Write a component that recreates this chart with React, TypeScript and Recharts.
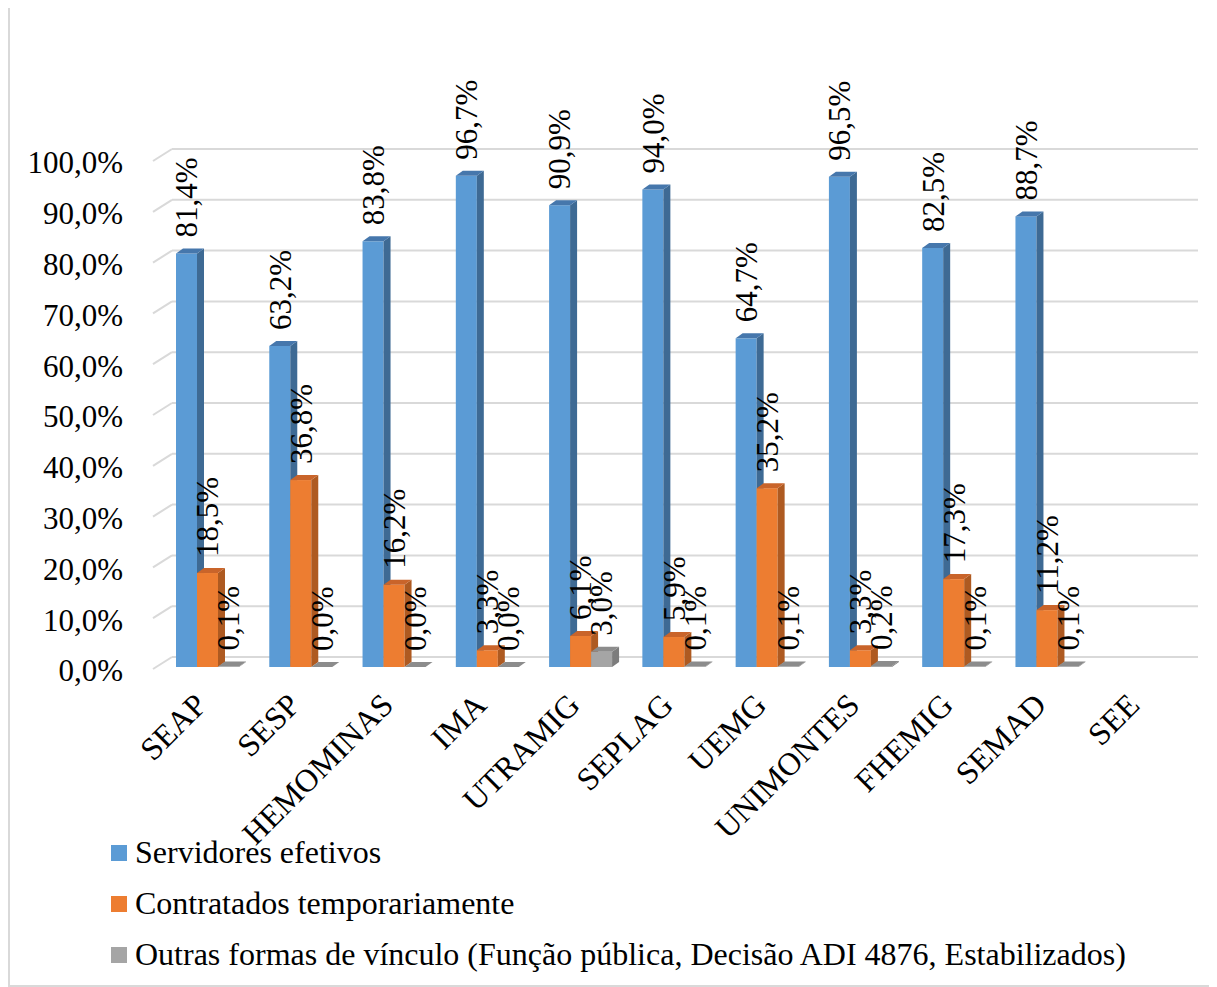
import React from 'react';
import { BarChart, Bar, XAxis, YAxis, CartesianGrid, Legend, LabelList } from 'recharts';

const categories = ['SEAP', 'SESP', 'HEMOMINAS', 'IMA', 'UTRAMIG', 'SEPLAG', 'UEMG', 'UNIMONTES', 'FHEMIG', 'SEMAD', 'SEE'];
const efetivos = [81.4, 63.2, 83.8, 96.7, 90.9, 94.0, 64.7, 96.5, 82.5, 88.7, null];
const temporarios = [18.5, 36.8, 16.2, 3.3, 6.1, 5.9, 35.2, 3.3, 17.3, 11.2, null];
const outras = [0.1, 0.0, 0.0, 0.0, 3.0, 0.1, 0.1, 0.2, 0.1, 0.1, null];
const yTicks = [0, 10, 20, 30, 40, 50, 60, 70, 80, 90, 100];
const seriesNames = [
  'Servidores efetivos',
  'Contratados temporariamente',
  'Outras formas de vínculo (Função pública, Decisão ADI 4876, Estabilizados)',
];

const data = categories.map((c, i) => ({
  name: c,
  efetivos: efetivos[i],
  temporarios: temporarios[i],
  outras: outras[i],
}));

const FONT = '"Liberation Serif", "Times New Roman", serif';
const DX = 7;
const DY = 5;

const fmt = (v: number) => `${v.toFixed(1).replace('.', ',')}%`;

const make3D = (front: string, top: string, side: string) => (props: any) => {
  const { x, y, width, height } = props;
  if (x == null || y == null || props.value == null) return <g />;
  const h = Math.max(0, height);
  return (
    <g>
      {h > 0 && <rect x={x} y={y} width={width} height={h} fill={front} />}
      <polygon
        points={`${x + width},${y} ${x + width + DX},${y - DY} ${x + width + DX},${y + h - DY} ${x + width},${y + h}`}
        fill={side}
      />
      <polygon
        points={`${x},${y} ${x + DX},${y - DY} ${x + width + DX},${y - DY} ${x + width},${y}`}
        fill={top}
      />
    </g>
  );
};

const blueShape = make3D('#5B9BD5', '#4677AC', '#3E6A94');
const orangeShape = make3D('#ED7D31', '#C9642A', '#AE5A21');
const grayShape = make3D('#A5A5A5', '#8C8C8C', '#7C7C7C');

const renderLabel = (props: any) => {
  const { x, y, width, value } = props;
  if (value == null || x == null) return null;
  const cx = x + width / 2;
  const ty = y - 16;
  return (
    <text
      x={cx}
      y={ty}
      transform={`rotate(-90 ${cx} ${ty})`}
      textAnchor="start"
      dy="0.35em"
      fontFamily={FONT}
      fontSize={31}
      fill="#000"
    >
      {fmt(value)}
    </text>
  );
};

const YTick = (props: any) => {
  const { x, y, payload } = props;
  return (
    <text x={x} y={y + 3.5} dy="0.35em" textAnchor="end" fontFamily={FONT} fontSize={31} fill="#000">
      {fmt(payload.value)}
    </text>
  );
};

const XTick = (props: any) => {
  const { payload } = props;
  const x = props.x - 7;
  const y = props.y - 6;
  return (
    <text
      x={x}
      y={y}
      dy="0.35em"
      textAnchor="end"
      transform={`rotate(-45 ${x} ${y})`}
      fontFamily={FONT}
      fontSize={32}
      fill="#000"
    >
      {payload.value}
    </text>
  );
};

const gridLine = (props: any) => {
  const { x1, x2, y1, key } = props;
  return (
    <g key={key}>
      <line x1={x1 - 8} y1={y1 + 2} x2={x1 + 11} y2={y1 - 10} stroke="#D9D9D9" strokeWidth={2} />
      <line x1={x1 + 11} y1={y1 - 10} x2={x2 + 11} y2={y1 - 10} stroke="#D9D9D9" strokeWidth={2} />
    </g>
  );
};

const LegendContent = (props: any) => {
  const payload = [...(props.payload || [])].sort(
    (a: any, b: any) => seriesNames.indexOf(a.value) - seriesNames.indexOf(b.value)
  );
  return (
    <div style={{ height: 153, fontFamily: FONT, fontSize: 32, color: '#000' }}>
      {payload.map((p: any) => (
        <div key={p.value} style={{ height: 51, display: 'flex', alignItems: 'center', whiteSpace: 'nowrap' }}>
          <span style={{ display: 'inline-block', width: 16, height: 16, background: p.color, marginRight: 8 }} />
          <span>{p.value}</span>
        </div>
      ))}
    </div>
  );
};

export default function App() {
  return (
    <div
      style={{
        position: 'relative',
        width: 1209,
        height: 981,
        marginTop: -2,
        border: '2px solid #D9D9D9',
        boxSizing: 'border-box',
        background: '#fff',
      }}
    >
      <div style={{ position: 'absolute', left: -2, top: -2 }}>
        <BarChart
          width={1209}
          height={981}
          data={data}
          margin={{ top: 153, right: 30, bottom: 7, left: 0 }}
          barSize={21}
          barGap={0}
        >
          <CartesianGrid vertical={false} horizontal={gridLine} />
          <YAxis
            domain={[0, 100]}
            ticks={yTicks}
            width={153}
            axisLine={false}
            tickLine={false}
            tickMargin={32}
            tick={<YTick />}
            interval={0}
          />
          <XAxis
            dataKey="name"
            height={160}
            axisLine={false}
            tickLine={false}
            tickMargin={32}
            interval={0}
            tick={<XTick />}
          />
          <Legend
            layout="horizontal"
            verticalAlign="bottom"
            align="left"
            content={<LegendContent />}
            wrapperStyle={{ left: 103, bottom: 7, width: 1100, height: 153 }}
          />
          <Bar dataKey="efetivos" name={seriesNames[0]} fill="#5B9BD5" shape={blueShape} isAnimationActive={false}>
            <LabelList dataKey="efetivos" content={renderLabel} />
          </Bar>
          <Bar dataKey="temporarios" name={seriesNames[1]} fill="#ED7D31" shape={orangeShape} isAnimationActive={false}>
            <LabelList dataKey="temporarios" content={renderLabel} />
          </Bar>
          <Bar dataKey="outras" name={seriesNames[2]} fill="#A5A5A5" shape={grayShape} isAnimationActive={false}>
            <LabelList dataKey="outras" content={renderLabel} />
          </Bar>
        </BarChart>
      </div>
    </div>
  );
}
